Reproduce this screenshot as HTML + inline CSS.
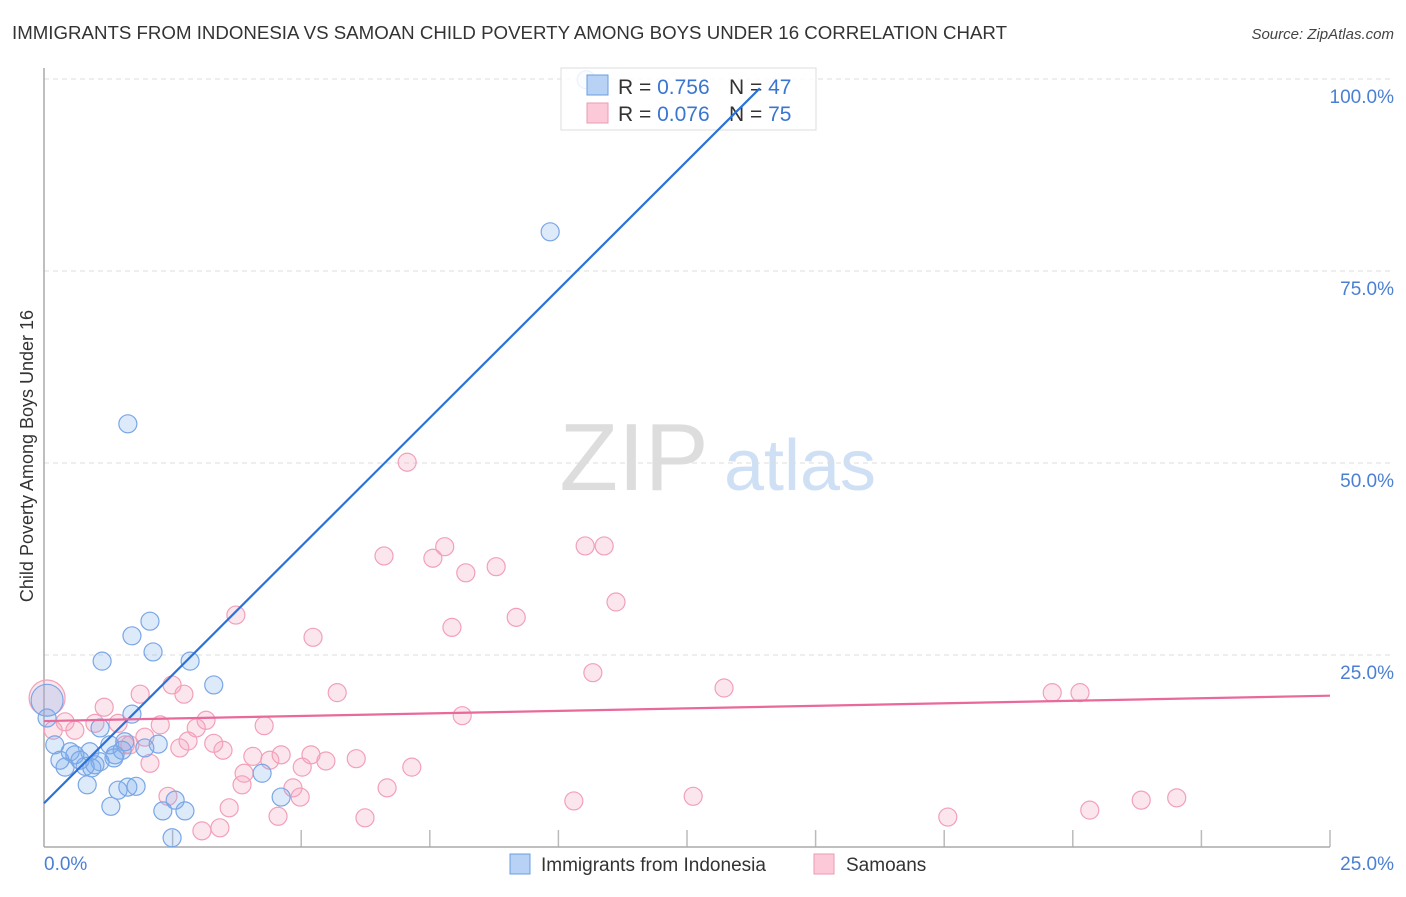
<!DOCTYPE html>
<html><head><meta charset="utf-8"><style>
body{margin:0;background:#fff;font-family:"Liberation Sans",sans-serif}
svg text{font-family:"Liberation Sans",sans-serif}
</style></head><body>
<svg id="chart" width="1406" height="892" viewBox="0 0 1406 892">
<text x="12" y="39" font-size="18" fill="#333" textLength="995" lengthAdjust="spacingAndGlyphs">IMMIGRANTS FROM INDONESIA VS SAMOAN CHILD POVERTY AMONG BOYS UNDER 16 CORRELATION CHART</text>
<text x="1394" y="39" font-size="15" fill="#444" text-anchor="end" font-style="italic">Source: ZipAtlas.com</text>
<text x="634" y="490" font-size="96" fill="#ddd" text-anchor="middle" font-family="Liberation Serif,serif">ZIP</text>
<text x="800" y="490" font-size="72" fill="#cfe0f5" text-anchor="middle">atlas</text>
<g id="grid"></g><g id="ticks"></g>
<line x1="44" y1="68" x2="44" y2="847" stroke="#aaa" stroke-width="1.5"/>
<line x1="44" y1="847" x2="1330" y2="847" stroke="#aaa" stroke-width="1.5"/>
<text transform="translate(33,456) rotate(-90)" font-size="18" fill="#333" text-anchor="middle">Child Poverty Among Boys Under 16</text>
<text x="44" y="870" font-size="19" fill="#4a7fd4">0.0%</text>
<text x="1394" y="870" font-size="19" fill="#4a7fd4" text-anchor="end">25.0%</text>
<g id="pts"></g>
<g>
<rect x="561" y="68" width="255" height="62" fill="rgba(255,255,255,0.85)" stroke="#ddd"/>
<rect x="587" y="75" width="21" height="20" fill="#b7d2f5" stroke="#6a9de0"/>
<rect x="587" y="103" width="21" height="20" fill="#fbc9d7" stroke="#ee9ab3"/>
<text x="618" y="94" font-size="21" fill="#333">R = <tspan fill="#3a75d0">0.756</tspan></text>
<text x="729" y="94" font-size="21" fill="#333">N = <tspan fill="#3a75d0">47</tspan></text>
<text x="618" y="121" font-size="21" fill="#333">R = <tspan fill="#3a75d0">0.076</tspan></text>
<text x="729" y="121" font-size="21" fill="#333">N = <tspan fill="#3a75d0">75</tspan></text>
</g>
<g id="lines"></g>
<rect x="510" y="854" width="20" height="20" fill="#b7d2f5" stroke="#6a9de0"/>
<text x="541" y="871" font-size="19" fill="#333">Immigrants from Indonesia</text>
<rect x="814" y="854" width="20" height="20" fill="#fbc9d7" stroke="#ee9ab3"/>
<text x="846" y="871" font-size="19" fill="#333">Samoans</text>
</svg>
<script>
const yTicks=[25,50,75,100];
const yTickLabels=["25.0%","50.0%","75.0%","100.0%"];
const xTicks=[2.5,5,7.5,10,12.5,15,17.5,20,22.5,25];
const blueX=[10.54,9.84,1.63,2.06,1.71,2.12,1.13,2.84,3.30,0.06,1.71,0.06,1.09,0.21,0.60,0.89,1.28,1.57,2.22,1.96,0.31,0.41,0.70,1.09,1.38,0.99,0.80,1.36,1.52,4.24,0.84,1.44,1.63,1.79,1.30,2.55,2.31,2.74,4.61,2.49,0.93,0.51];
const blueY=[99.9,80.1,55.1,29.4,27.5,25.4,24.2,24.2,21.1,19.1,17.3,16.8,15.5,13.3,12.0,12.4,13.3,13.7,13.4,12.9,11.3,10.4,11.3,11.1,12.0,10.7,10.5,11.6,12.6,9.6,8.1,7.4,7.8,7.9,5.3,6.1,4.7,4.7,6.5,1.2,10.3,12.4];
const pinkX=[7.06,6.61,7.79,7.56,8.20,8.79,10.52,10.89,11.12,9.18,7.93,3.73,5.23,10.67,13.22,19.60,20.14,5.70,0.06,2.49,2.72,1.87,1.17,8.13,3.15,4.28,2.26,1.44,0.99,0.41,0.60,0.18,2.96,1.96,1.58,2.80,3.30,2.64,3.48,4.06,4.39,4.61,5.19,5.48,6.07,2.06,5.02,3.89,7.15,3.85,4.84,6.67,2.41,4.98,10.30,12.62,3.60,4.55,6.24,3.42,3.07,17.57,20.33,21.33,22.02,1.67];
const pinkY=[50.1,37.9,39.1,37.6,35.7,36.5,39.2,39.2,31.9,29.9,28.6,30.2,27.3,22.7,20.7,20.1,20.1,20.1,19.4,21.1,19.9,19.9,18.2,17.1,16.5,15.8,15.9,16.1,16.1,16.3,15.2,15.2,15.5,14.3,13.3,13.8,13.5,12.9,12.6,11.8,11.3,12.0,12.0,11.2,11.5,10.9,10.4,9.6,10.4,8.1,7.7,7.7,6.6,6.5,6.0,6.6,5.1,4.0,3.8,2.5,2.1,3.9,4.8,6.1,6.4,13.3];
const blueLine=[5.7,6.69]; // intercept, slope
const pinkLine=[16.4,19.7]; // y at x=0, y at x=25
const NS="http://www.w3.org/2000/svg";
const sx=v=>44+v*51.44, sy=v=>847-v*7.68;
function mk(t,a,p){const e=document.createElementNS(NS,t);for(const k in a)e.setAttribute(k,a[k]);p.appendChild(e);return e;}
const grid=document.getElementById('grid'),ticks=document.getElementById('ticks'),pts=document.getElementById('pts'),lines=document.getElementById('lines');
yTicks.forEach((v,i)=>{
 const l=mk('line',{x1:44,x2:1394,y1:sy(v),y2:sy(v),stroke:'#ddd','stroke-dasharray':'5,4'},grid);
 
 
 const t=mk('text',{x:1394,y:sy(v)+24,'font-size':19,fill:'#4a7fd4','text-anchor':'end'},grid);
 
 
 t.textContent=yTickLabels[i];
});
xTicks.forEach(v=>{
 const l=mk('line',{x1:sx(v),x2:sx(v),y1:830,y2:847,stroke:'#bbb','stroke-width':1.5},ticks);
 
 
});
pinkX.forEach((x,i)=>{
 const big=x<0.1&&pinkY[i]>18;
 const c=mk('circle',{cx:sx(x),cy:sy(pinkY[i]),r:big?18:9,fill:'rgba(246,165,190,0.28)',stroke:'#f2a0b8','stroke-width':1.2},pts);
 
 
});
blueX.forEach((x,i)=>{
 const big=x<0.1&&blueY[i]>18;
 const c=mk('circle',{cx:sx(x),cy:sy(blueY[i]),r:big?16:9,fill:'rgba(120,170,235,0.25)',stroke:'#7aa6e6','stroke-width':1.2},pts);
 
 
});
const bx2=(98.8-blueLine[0])/blueLine[1];
const bl=mk('line',{x1:sx(0),y1:sy(blueLine[0]),x2:sx(bx2),y2:sy(blueLine[0]+blueLine[1]*bx2),stroke:'#2a72d8','stroke-width':2.2},lines);


const pl=mk('line',{x1:sx(0),y1:sy(pinkLine[0]),x2:sx(25),y2:sy(pinkLine[1]),stroke:'#e8699a','stroke-width':2.2},lines);


</script>
</body></html>
